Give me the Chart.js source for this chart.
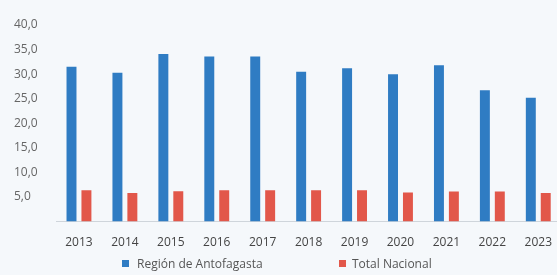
<!DOCTYPE html>
<html lang="es">
<head>
  <meta charset="UTF-8" />
  <title>Región de Antofagasta vs Total Nacional</title>
  <script src="https://cdn.jsdelivr.net/npm/chart.js"></script>
  <style>
    html, body { margin: 0; padding: 0; background: #f5f8fb; overflow: hidden; }
    #wrap { position: relative; width: 566px; height: 275px; }
    #chart { position: absolute; left: 0; top: 0; }
    #legend { position: absolute; left: 0; top: 256px; width: 566px; height: 16px;
              font: 12px "Open Sans", sans-serif; color: #555; }
    .item { position: absolute; top: 0; line-height: 16px; white-space: nowrap; }
    .box { position: absolute; top: 4px; width: 7px; height: 7px; }
  </style>
</head>
<body>
  <div id="wrap">
    <canvas id="chart" width="566" height="266"></canvas>
    <div id="legend"></div>
  </div>

  <script>
    // data
    const years = ["2013", "2014", "2015", "2016", "2017", "2018", "2019", "2020", "2021", "2022", "2023"];
    const antofagasta = [31.5, 30.3, 34.1, 33.6, 33.6, 30.5, 31.2, 30.0, 31.8, 26.7, 25.2];
    const nacional = [6.4, 5.8, 6.2, 6.4, 6.4, 6.4, 6.4, 5.9, 6.1, 6.1, 5.8];
    const seriesNames = ["Región de Antofagasta", "Total Nacional"];
    const yTicks = [5, 10, 15, 20, 25, 30, 35, 40];

    const colors = ["#2f7cc3", "#e2574a"];
    const font = { family: "'Open Sans', sans-serif", size: 12 };

    new Chart(document.getElementById("chart"), {
      type: "bar",
      data: {
        labels: years,
        datasets: [
          { label: seriesNames[0], data: antofagasta, backgroundColor: colors[0] },
          { label: seriesNames[1], data: nacional, backgroundColor: colors[1] }
        ]
      },
      options: {
        responsive: false,
        animation: false,
        categoryPercentage: 0.65,
        barPercentage: 0.667,
        layout: { padding: { left: 14, right: 0, top: 25, bottom: 2 } },
        plugins: { legend: { display: false }, tooltip: { enabled: false } },
        scales: {
          x: {
            grid: { display: false, drawTicks: false },
            border: { display: true, color: "#cfd5db", width: 1 },
            ticks: { color: "#444", font: font, padding: 14, maxRotation: 0 }
          },
          y: {
            min: 0,
            max: 40,
            afterFit: s => { s.width = 42; },
            afterBuildTicks: s => { s.ticks = yTicks.map(v => ({ value: v })); },
            grid: { display: false, drawTicks: false },
            border: { display: false },
            ticks: {
              color: "#666",
              font: font,
              crossAlign: "far",
              callback: v => v.toFixed(1).replace(".", ",")
            }
          }
        }
      }
    });

    // legend as html, placed like the original
    const legendPos = [[122, 137], [339, 352]];
    const legend = document.getElementById("legend");
    seriesNames.forEach((name, i) => {
      const box = document.createElement("div");
      box.className = "box";
      box.style.left = legendPos[i][0] + "px";
      box.style.background = colors[i];
      const txt = document.createElement("div");
      txt.className = "item";
      txt.style.left = legendPos[i][1] + "px";
      txt.textContent = name;
      legend.appendChild(box);
      legend.appendChild(txt);
    });
  </script>
</body>
</html>
